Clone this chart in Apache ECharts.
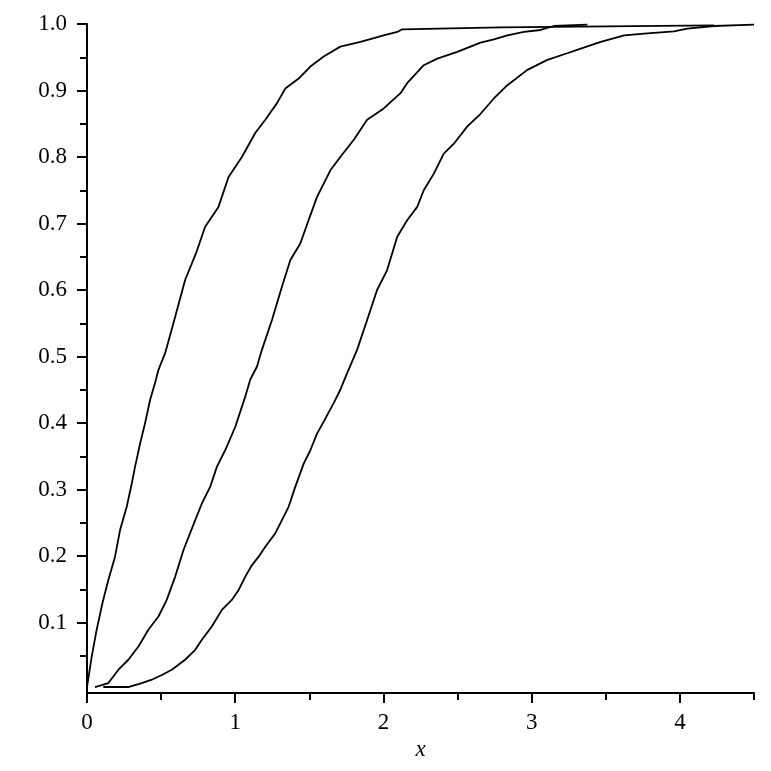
<!DOCTYPE html>
<html>
<head>
<meta charset="utf-8">
<script src="https://cdn.jsdelivr.net/npm/echarts@6/dist/echarts.min.js"></script>
<style>html,body{margin:0;padding:0;background:#fff;}#c{width:771px;height:771px;}</style>
</head>
<body>
<div id="c"></div>
<script>
var curveA = [[0,0.003],[0.032,0.049],[0.065,0.089],[0.104,0.129],[0.144,0.164],[0.189,0.199],[0.223,0.239],[0.268,0.274],[0.302,0.309],[0.324,0.334],[0.358,0.369],[0.392,0.400],[0.426,0.435],[0.459,0.460],[0.482,0.480],[0.527,0.505],[0.583,0.550],[0.662,0.615],[0.735,0.655],[0.797,0.695],[0.887,0.725],[0.955,0.770],[1.045,0.800],[1.135,0.836],[1.203,0.856],[1.282,0.881],[1.338,0.903],[1.428,0.918],[1.507,0.936],[1.597,0.951],[1.709,0.966],[1.845,0.973],[2.002,0.983],[2.093,0.988],[2.126,0.992],[2.79,0.995],[4.23,0.998]];
var curveB = [[0.054,0.003],[0.144,0.009],[0.212,0.029],[0.279,0.044],[0.347,0.064],[0.414,0.089],[0.482,0.109],[0.538,0.134],[0.595,0.169],[0.651,0.209],[0.730,0.254],[0.775,0.279],[0.831,0.304],[0.876,0.334],[0.932,0.359],[1.0,0.394],[1.068,0.440],[1.101,0.465],[1.147,0.485],[1.18,0.510],[1.248,0.555],[1.315,0.605],[1.372,0.645],[1.439,0.670],[1.495,0.705],[1.552,0.740],[1.642,0.780],[1.709,0.800],[1.80,0.826],[1.89,0.856],[2.002,0.873],[2.115,0.896],[2.16,0.911],[2.272,0.938],[2.363,0.948],[2.498,0.958],[2.655,0.972],[2.745,0.977],[2.836,0.983],[2.948,0.988],[3.06,0.991],[3.15,0.997],[3.376,0.999]];
var curveC = [[0.11,0.003],[0.279,0.003],[0.369,0.009],[0.437,0.014],[0.505,0.021],[0.572,0.029],[0.662,0.044],[0.730,0.059],[0.775,0.074],[0.842,0.094],[0.910,0.119],[0.977,0.134],[1.023,0.149],[1.068,0.169],[1.112,0.186],[1.158,0.199],[1.203,0.214],[1.27,0.234],[1.315,0.254],[1.36,0.274],[1.405,0.304],[1.462,0.339],[1.507,0.359],[1.552,0.384],[1.597,0.402],[1.664,0.430],[1.709,0.450],[1.755,0.475],[1.822,0.510],[1.89,0.555],[1.957,0.600],[2.025,0.630],[2.093,0.680],[2.16,0.705],[2.228,0.725],[2.272,0.750],[2.34,0.775],[2.407,0.805],[2.475,0.820],[2.566,0.846],[2.655,0.865],[2.745,0.888],[2.836,0.908],[2.971,0.931],[3.106,0.946],[3.24,0.956],[3.331,0.963],[3.466,0.973],[3.624,0.983],[3.78,0.986],[3.96,0.989],[4.05,0.993],[4.23,0.997],[4.5,0.999]];

var xMajorTicks = [0, 1, 2, 3, 4];
var xMinorTicks = [0.5, 1.5, 2.5, 3.5, 4.5];
var yMajorTicks = [0.1, 0.2, 0.3, 0.4, 0.5, 0.6, 0.7, 0.8, 0.9, 1.0];
var yMinorTicks = [0.05, 0.15, 0.25, 0.35, 0.45, 0.55, 0.65, 0.75, 0.85, 0.95];
var xName = 'x';

var FONT = 'Liberation Serif';
var chart = echarts.init(document.getElementById('c'), null, {renderer: 'canvas'});
var lineStyleAxis = {color: '#000', width: 2};
var baseX = {type: 'value', min: 0, max: 4.5, position: 'bottom', offset: 0, splitLine: {show: false}};
var baseY = {type: 'value', min: -0.006, max: 1.0, position: 'left', offset: 0, splitLine: {show: false}};

chart.setOption({
  animation: false,
  backgroundColor: '#fff',
  grid: {left: 87, right: 17, top: 24, bottom: 78, containLabel: false},
  xAxis: [
    Object.assign({}, baseX, {
      name: xName, nameLocation: 'middle', nameGap: 42,
      nameTextStyle: {fontFamily: FONT, fontStyle: 'italic', fontSize: 23, color: '#000'},
      axisLine: {show: true, onZero: false, lineStyle: lineStyleAxis},
      axisTick: {show: true, inside: false, length: 10, customValues: xMajorTicks, lineStyle: lineStyleAxis},
      axisLabel: {show: true, margin: 18, customValues: xMajorTicks, fontFamily: FONT, fontSize: 23, color: '#000',
        formatter: function (v) { return String(v); }}
    }),
    Object.assign({}, baseX, {
      axisLine: {show: false, onZero: false},
      axisTick: {show: true, inside: false, length: 7, customValues: xMinorTicks, lineStyle: lineStyleAxis},
      axisLabel: {show: false}
    })
  ],
  yAxis: [
    Object.assign({}, baseY, {
      axisLine: {show: true, onZero: false, lineStyle: lineStyleAxis},
      axisTick: {show: true, inside: false, length: 10, customValues: yMajorTicks, lineStyle: lineStyleAxis},
      axisLabel: {show: true, margin: 20, customValues: yMajorTicks, fontFamily: FONT, fontSize: 23, color: '#000',
        formatter: function (v) { return v.toFixed(1); }}
    }),
    Object.assign({}, baseY, {
      axisLine: {show: false, onZero: false},
      axisTick: {show: true, inside: false, length: 7, customValues: yMinorTicks, lineStyle: lineStyleAxis},
      axisLabel: {show: false}
    })
  ],
  series: [curveA, curveB, curveC].map(function (d) {
    return {
      type: 'line', data: d, xAxisIndex: 0, yAxisIndex: 0,
      showSymbol: false, symbol: 'none', smooth: false,
      lineStyle: {color: '#000', width: 1.8}
    };
  })
});
</script>
</body>
</html>
